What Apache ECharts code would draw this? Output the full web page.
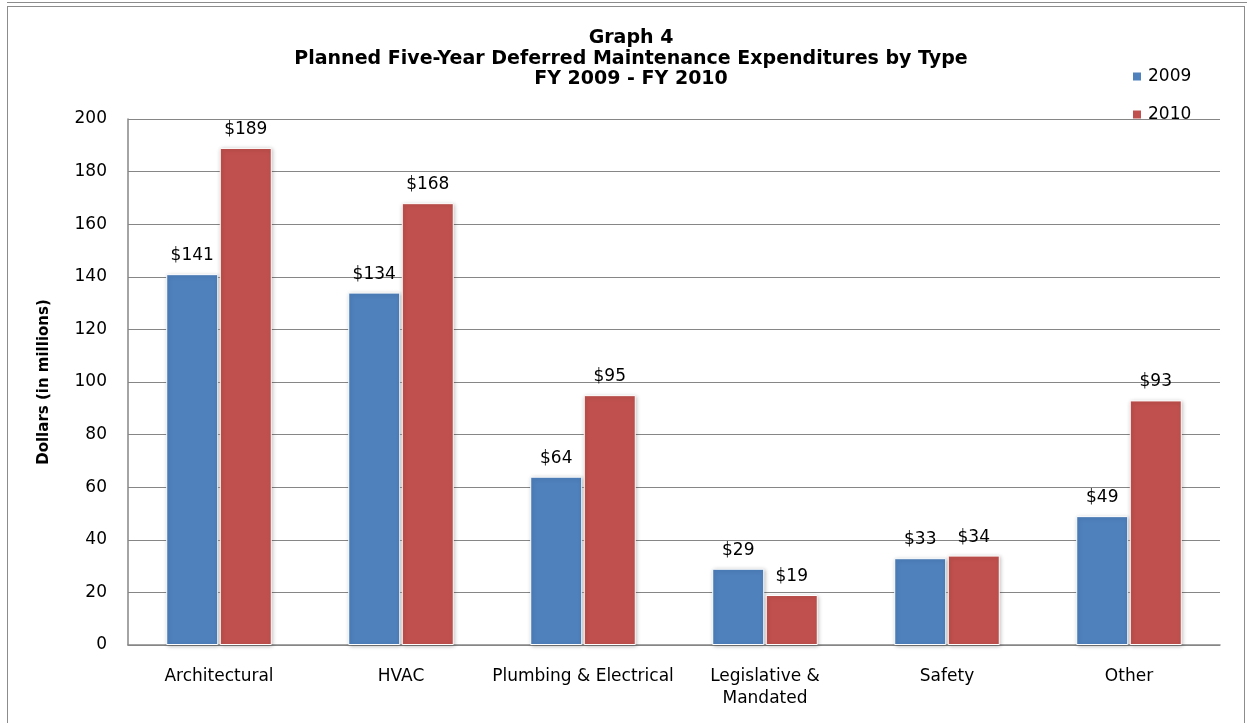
<!DOCTYPE html>
<html><head><meta charset="utf-8">
<script src="https://cdn.jsdelivr.net/npm/echarts@6/dist/echarts.min.js"></script>
<style>
html,body{margin:0;padding:0;background:#fff;}
#frame{position:absolute;left:7px;top:6px;width:1238px;height:730px;border:1px solid #8c8c8c;box-sizing:border-box;}
#topline{position:absolute;left:7px;top:2px;width:1240px;height:0;border-top:1px solid #8c8c8c;}
#c{position:absolute;left:0;top:0;width:1247px;height:723px;}
</style></head>
<body>
<div id="topline"></div>
<div id="frame"></div>
<div id="c"></div>
<script>
const categories = ['Architectural', 'HVAC', 'Plumbing & Electrical', 'Legislative &\nMandated', 'Safety', 'Other'];
const seriesNames = ['2009', '2010'];
const values2009 = [141, 134, 64, 29, 33, 49];
const values2010 = [189, 168, 95, 19, 34, 93];
const yTicks = [0, 20, 40, 60, 80, 100, 120, 140, 160, 180, 200];

const font = 'Tahoma, "DejaVu Sans", Verdana, sans-serif';
const chart = echarts.init(document.getElementById('c'), null, {renderer: 'canvas'});
const mkSeries = (name, data, color) => ({
  name, type: 'bar', data,
  barGap: '3%', barCategoryGap: '42%',
  itemStyle: {color, borderColor: '#fff', borderWidth: 1, shadowColor: 'rgba(0,0,0,0.25)', shadowBlur: 4, shadowOffsetX: 1, shadowOffsetY: 1},
  label: {show: true, position: 'top', distance: 10, formatter: p => '$' + p.value, color: '#000', fontFamily: font, fontSize: 17},
  emphasis: {disabled: true}
});
chart.setOption({
  animation: false,
  backgroundColor: 'transparent',
  title: {
    text: 'Graph 4\nPlanned Five-Year Deferred Maintenance Expenditures by Type\nFY 2009 - FY 2010',
    left: 626, top: 23, textAlign: 'center',
    textStyle: {fontFamily: 'Verdana, "DejaVu Sans", sans-serif', fontWeight: 'bold', fontSize: 19, lineHeight: 20.5, color: '#000'}
  },
  legend: {
    orient: 'vertical', left: 1128, top: 63, itemGap: 21, itemWidth: 8, itemHeight: 8,
    icon: 'rect',
    itemStyle: {borderWidth: 0, shadowBlur: 0, shadowOffsetX: 0, shadowOffsetY: 0},
    textStyle: {fontFamily: font, fontSize: 17, color: '#000', padding: [0,0,0,2]},
    data: seriesNames
  },
  grid: {left: 128, right: 27, top: 119, bottom: 78, containLabel: false},
  xAxis: {
    type: 'category', data: categories,
    axisLine: {lineStyle: {color: '#868686', width: 1.5}},
    axisTick: {show: false},
    axisLabel: {color: '#000', fontFamily: font, fontSize: 17, margin: 21, lineHeight: 22, interval: 0}
  },
  yAxis: {
    type: 'value', min: yTicks[0], max: yTicks[yTicks.length-1], interval: 20,
    name: 'Dollars (in millions)', nameLocation: 'middle', nameGap: 76, nameRotate: 90,
    nameTextStyle: {fontFamily: 'Verdana, "DejaVu Sans", sans-serif', fontWeight: 'bold', fontSize: 15, color: '#000'},
    axisLine: {show: true, lineStyle: {color: '#868686', width: 1.5}},
    axisTick: {show: false},
    splitLine: {lineStyle: {color: '#868686', width: 1.2}},
    axisLabel: {color: '#000', fontFamily: font, fontSize: 17, margin: 21}
  },
  series: [mkSeries(seriesNames[0], values2009, '#4F81BD'), mkSeries(seriesNames[1], values2010, '#C0504D')]
});
</script>
</body></html>
